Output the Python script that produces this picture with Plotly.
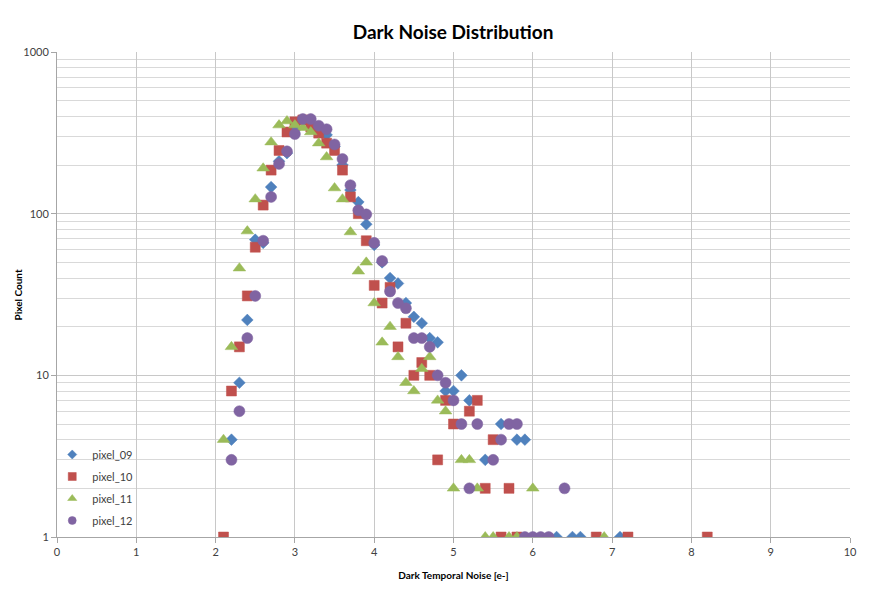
import plotly.graph_objects as go

# ---- data ----
x09 = [2.2, 2.3, 2.4, 2.5, 2.6, 2.7, 2.8, 2.9, 3.0, 3.1, 3.2, 3.3, 3.4, 3.5, 3.6, 3.7, 3.8, 3.9, 4.0,
       4.1, 4.2, 4.3, 4.4, 4.5, 4.6, 4.7, 4.8, 4.9, 5.0, 5.1, 5.2, 5.4, 5.6, 5.8, 5.9, 6.3, 6.5, 6.6, 7.1]
y09 = [4, 9, 22, 69, 66, 146, 211, 237, 330, 375, 360, 330, 307, 260, 200, 140, 118, 86, 64,
       50, 40, 37, 28, 23, 21, 17, 16, 8, 8, 10, 7, 3, 5, 4, 4, 1, 1, 1, 1]

x10 = [2.1, 2.2, 2.3, 2.4, 2.5, 2.6, 2.7, 2.8, 2.9, 3.0, 3.1, 3.2, 3.3, 3.4, 3.5, 3.6, 3.7, 3.8, 3.9,
       4.0, 4.1, 4.2, 4.3, 4.4, 4.5, 4.6, 4.7, 4.8, 4.9, 5.0, 5.2, 5.3, 5.4, 5.5, 5.6, 5.7, 5.8, 6.8,
       7.2, 8.2]
y10 = [1, 8, 15, 31, 62, 113, 186, 246, 320, 370, 380, 344, 315, 273, 246, 186, 127, 100, 68,
       36, 28, 35, 15, 21, 10, 12, 10, 3, 7, 5, 6, 7, 2, 4, 1, 2, 1, 1,
       1, 1]

x11 = [2.1, 2.2, 2.3, 2.4, 2.5, 2.6, 2.7, 2.8, 2.9, 3.0, 3.1, 3.2, 3.3, 3.4, 3.5, 3.6, 3.7, 3.8, 3.9,
       4.0, 4.1, 4.2, 4.3, 4.4, 4.5, 4.6, 4.7, 4.8, 4.9, 5.0, 5.1, 5.2, 5.3, 5.4, 5.5, 5.7, 5.8, 6.0,
       6.9]
y11 = [4, 15, 46, 78, 123, 191, 277, 353, 374, 353, 340, 320, 273, 224, 144, 123, 77, 44, 50,
       28, 16, 20, 13, 9, 8, 11, 13, 7, 6, 2, 3, 3, 2, 1, 1, 1, 1, 2,
       1]

x12 = [2.2, 2.3, 2.4, 2.5, 2.6, 2.7, 2.8, 2.9, 3.0, 3.1, 3.2, 3.3, 3.4, 3.5, 3.6, 3.7, 3.8, 3.9, 4.0,
       4.1, 4.2, 4.3, 4.4, 4.5, 4.6, 4.7, 4.8, 4.9, 5.0, 5.1, 5.2, 5.3, 5.5, 5.6, 5.7, 5.8, 5.9, 6.0,
       6.1, 6.2, 6.4]
y12 = [3, 6, 17, 31, 68, 127, 203, 243, 311, 385, 385, 350, 333, 268, 218, 150, 105, 99, 66,
       51, 33, 28, 26, 17, 17, 15, 10, 9, 7, 5, 2, 5, 3, 4, 5, 5, 1, 1,
       1, 1, 2]

series = [
    ("pixel_09", x09, y09, "#4F81BD", "diamond", 9, 7),
    ("pixel_10", x10, y10, "#C0504D", "square", 10, 8),
    ("pixel_11", x11, y11, "#9BBB59", "triangle-up", 11, 8),
    ("pixel_12", x12, y12, "#8064A2", "circle", 11, 8),
]

x_ticks = list(range(0, 11))
y_ticks = [1, 10, 100, 1000]
y_tick_text = ["1", "10", "100", "1000"]

FONT = "Lato, 'Open Sans', sans-serif"

fig = go.Figure()
for name, xs, ys, col, sym, sz, lsz in series:
    fig.add_trace(go.Scatter(
        x=xs, y=ys, mode="markers", name=name, showlegend=False, legendgroup=name,
        marker=dict(symbol=sym, size=sz, color=col, line=dict(width=0.5, color=col)),
    ))
# legend entries with smaller symbols (no data)
for name, xs, ys, col, sym, sz, lsz in series:
    fig.add_trace(go.Scatter(
        x=[None], y=[None], mode="markers", name=name, legendgroup=name,
        marker=dict(symbol=sym, size=lsz, color=col, line=dict(width=0.5, color=col)),
    ))

minor_vals = [m * d for d in (1, 10, 100) for m in range(2, 10)]

# page body has an 8px margin: plot area at page x 57..850, y 52..537
fig.update_layout(
    width=883, height=582,
    margin=dict(l=49, r=41, t=44, b=53),
    paper_bgcolor="white", plot_bgcolor="white",
    font=dict(family=FONT, size=11, color="#404040"),
    title=dict(text="<b>Dark Noise Distribution</b>", x=0.504, xanchor="center",
               y=0.959, yanchor="middle", font=dict(size=19, color="#000000", family=FONT)),
    showlegend=True,
    legend=dict(x=-0.006, y=0.2, xanchor="left", yanchor="top", bgcolor="rgba(0,0,0,0)",
                font=dict(size=11, color="#404040", family=FONT), itemsizing="trace",
                itemwidth=30, tracegroupgap=3),
    xaxis=dict(
        range=[0, 10], tickvals=x_ticks, ticktext=[str(v) for v in x_ticks],
        showgrid=True, gridcolor="#c8c8c8", gridwidth=1, automargin=False,
        showline=True, linecolor="#a6a6a6", linewidth=1,
        ticks="outside", ticklen=5, tickcolor="#a6a6a6",
        zeroline=False, tickfont=dict(size=11, color="#404040"),
        title=dict(text="<b>Dark Temporal Noise [e-]</b>", font=dict(size=10, color="#000000"),
                   standoff=14),
    ),
    yaxis=dict(
        type="log", range=[0, 3], tickvals=y_ticks, ticktext=y_tick_text,
        showgrid=True, gridcolor="#c8c8c8", gridwidth=1, automargin=False,
        showline=True, linecolor="#a6a6a6", linewidth=1,
        ticks="outside", ticklen=5, tickcolor="#a6a6a6",
        zeroline=False, tickfont=dict(size=11, color="#404040"),
        minor=dict(tickvals=minor_vals, showgrid=True, gridcolor="#d9d9d9", gridwidth=1,
                   ticks=""),
    ),
    annotations=[dict(text="<b>Pixel Count</b>", textangle=-90, xref="paper", yref="paper",
                      x=-0.0492, y=0.5, xanchor="center", yanchor="middle", showarrow=False,
                      font=dict(size=10, color="#000000", family=FONT))],
)

# chart frame: left and right edges
for xx in (-50/793, 1 + 34/793):
    fig.add_shape(type="line", xref="paper", yref="paper",
                  x0=xx, x1=xx, y0=-53/485, y1=1 + 52/485,
                  line=dict(color="#a0a0a0", width=1), layer="below")

fig.write_html("out.html")
